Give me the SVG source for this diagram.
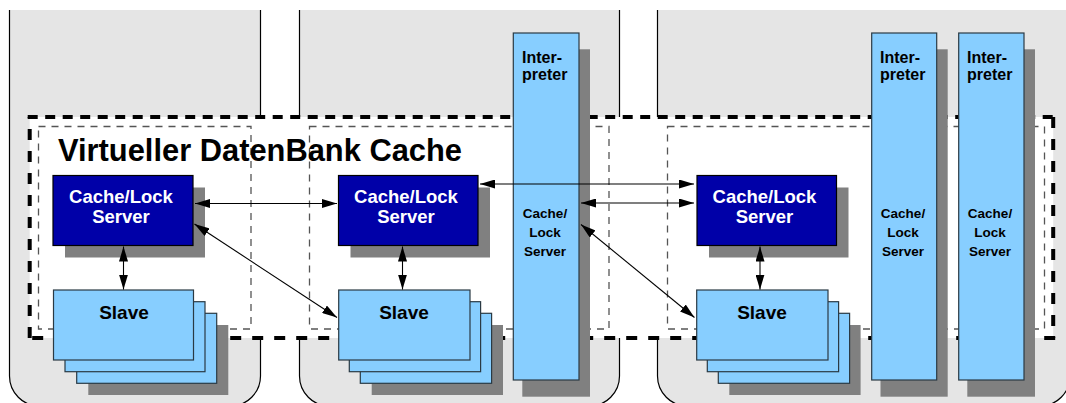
<svg xmlns="http://www.w3.org/2000/svg" width="1066" height="403" viewBox="0 0 1066 403">
  <defs>
    <style>
      .panel { fill: #e5e5e5; stroke: none; }
      .edge { fill: none; stroke: #000; stroke-width: 1.2; }
      .zone { fill: none; stroke: #555; stroke-width: 1.3; stroke-dasharray: 7 6; }
      .cache-top { fill: none; stroke: #000; stroke-width: 4; stroke-dasharray: 10 7.5; }
      .cache-side { fill: none; stroke: #000; stroke-width: 4; stroke-dasharray: 11 11; }
      .shadow { fill: #808080; stroke: none; }
      .srv { fill: #0000a8; stroke: #000; stroke-width: 1.2; }
      .lb { fill: #87ceff; stroke: #2a3a44; stroke-width: 1.2; }
      .t { font-family: "Liberation Sans", Arial, Helvetica, sans-serif; font-weight: bold; }
      .title { font-size: 30.5px; fill: #000; }
      .srvtxt { font-size: 18.5px; fill: #fff; text-anchor: middle; }
      .slavetxt { font-size: 19px; fill: #000; text-anchor: middle; }
      .intxt { font-size: 16px; fill: #000; }
      .coltxt { font-size: 13.5px; fill: #000; text-anchor: middle; }
      .link { fill: none; stroke: #000; stroke-width: 1.1; marker-start: url(#ah); marker-end: url(#ah); }
    </style>
    <marker id="ah" viewBox="0 0 15 9" refX="15" refY="4.5" markerWidth="15" markerHeight="9" markerUnits="userSpaceOnUse" orient="auto-start-reverse">
      <path d="M0,0 L15,4.5 L0,9 z" fill="#000"/>
    </marker>
  </defs>

  <!-- host machines -->
  <g id="host1">
    <path class="panel" d="M9.5,10 H260.5 V376 A30,30 0 0 1 230.5,406 H39.5 A30,30 0 0 1 9.5,376 Z"/>
    <path class="edge" d="M9.5,10 V376 A30,30 0 0 0 39.5,406 H230.5 A30,30 0 0 0 260.5,376 V10"/>
  </g>
  <g id="host2">
    <path class="panel" d="M299.5,10 H619.5 V376 A30,30 0 0 1 589.5,406 H329.5 A30,30 0 0 1 299.5,376 Z"/>
    <path class="edge" d="M299.5,10 V376 A30,30 0 0 0 329.5,406 H589.5 A30,30 0 0 0 619.5,376 V10"/>
  </g>
  <g id="host3">
    <path class="panel" d="M657.5,10 H1070 V376 A30,30 0 0 1 1040,406 H687.5 A30,30 0 0 1 657.5,376 Z"/>
    <path class="edge" d="M657.5,10 V376 A30,30 0 0 0 687.5,406 H1040 A30,30 0 0 0 1070,376 V10"/>
  </g>

  <!-- virtual database cache area -->
  <g id="cache-area">
    <rect x="29.7" y="117" width="1023.5" height="221" fill="#fff"/>
    <rect class="zone" x="38.5" y="126.5" width="212.5" height="202.5"/>
    <rect class="zone" x="309.5" y="126.5" width="299.5" height="202.5"/>
    <rect class="zone" x="667.5" y="126.5" width="377" height="202.5"/>
    <line class="cache-top" x1="27.7" y1="117" x2="1055.2" y2="117"/>
    <line class="cache-side" x1="1053.2" y1="117" x2="1053.2" y2="338"/>
    <line class="cache-side" x1="1055.2" y1="338" x2="27.7" y2="338"/>
    <line class="cache-side" x1="29.7" y1="338" x2="29.7" y2="117"/>
    <text class="t title" x="58" y="161" textLength="404" lengthAdjust="spacingAndGlyphs">Virtueller DatenBank Cache</text>
  </g>

  <!-- cache/lock servers -->
  <g id="server1">
    <rect class="shadow" x="65" y="187.5" width="140" height="70"/>
    <rect class="srv" x="53" y="175.5" width="140" height="70"/>
    <text class="t srvtxt" x="121" y="203">Cache/Lock</text>
    <text class="t srvtxt" x="121" y="222.5">Server</text>
  </g>
  <g id="server2">
    <rect class="shadow" x="350.5" y="187.5" width="139.5" height="70"/>
    <rect class="srv" x="338.5" y="175.5" width="139.5" height="70"/>
    <text class="t srvtxt" x="406" y="203">Cache/Lock</text>
    <text class="t srvtxt" x="406" y="222.5">Server</text>
  </g>
  <g id="server3">
    <rect class="shadow" x="709" y="187.5" width="139.5" height="70"/>
    <rect class="srv" x="697" y="175.5" width="139.5" height="70"/>
    <text class="t srvtxt" x="764.5" y="203">Cache/Lock</text>
    <text class="t srvtxt" x="764.5" y="222.5">Server</text>
  </g>

  <!-- slave stacks -->
  <g id="slaves1">
    <rect class="shadow" x="88.3" y="325" width="140" height="70"/>
    <rect class="lb" x="76.7" y="313.3" width="140" height="70"/>
    <rect class="lb" x="65" y="301.7" width="140" height="70"/>
    <rect class="lb" x="53.5" y="290" width="140" height="70"/>
    <text class="t slavetxt" x="124" y="319">Slave</text>
  </g>
  <g id="slaves2">
    <rect class="shadow" x="371.7" y="325" width="131.3" height="70"/>
    <rect class="lb" x="360.3" y="313.3" width="131.3" height="70"/>
    <rect class="lb" x="349.3" y="301.7" width="131.3" height="70"/>
    <rect class="lb" x="338.7" y="290" width="131.3" height="70"/>
    <text class="t slavetxt" x="404" y="319">Slave</text>
  </g>
  <g id="slaves3">
    <rect class="shadow" x="729.3" y="325" width="131.3" height="70"/>
    <rect class="lb" x="718.3" y="313.3" width="131.3" height="70"/>
    <rect class="lb" x="707.3" y="301.7" width="131.3" height="70"/>
    <rect class="lb" x="696.7" y="290" width="131.3" height="70"/>
    <text class="t slavetxt" x="762" y="319">Slave</text>
  </g>

  <!-- interpreters with built-in cache/lock server -->
  <g id="interp1">
    <rect class="shadow" x="522.3" y="49.3" width="67.7" height="347.4"/>
    <rect class="lb" x="513.3" y="33" width="65.7" height="347"/>
    <text class="t intxt" x="522" y="62.5">Inter-</text>
    <text class="t intxt" x="522" y="80">preter</text>
    <text class="t coltxt" x="545" y="217.5">Cache/</text>
    <text class="t coltxt" x="545" y="236.5">Lock</text>
    <text class="t coltxt" x="545" y="256">Server</text>
  </g>
  <g id="interp2">
    <rect class="shadow" x="880.5" y="49.3" width="67.2" height="347.4"/>
    <rect class="lb" x="871.7" y="33" width="65" height="347"/>
    <text class="t intxt" x="880" y="62.5">Inter-</text>
    <text class="t intxt" x="880" y="80">preter</text>
    <text class="t coltxt" x="903" y="217.5">Cache/</text>
    <text class="t coltxt" x="903" y="236.5">Lock</text>
    <text class="t coltxt" x="903" y="256">Server</text>
  </g>
  <g id="interp3">
    <rect class="shadow" x="967.3" y="49.3" width="67.7" height="347.4"/>
    <rect class="lb" x="958.7" y="33" width="65.3" height="347"/>
    <text class="t intxt" x="967" y="62.5">Inter-</text>
    <text class="t intxt" x="967" y="80">preter</text>
    <text class="t coltxt" x="990" y="217.5">Cache/</text>
    <text class="t coltxt" x="990" y="236.5">Lock</text>
    <text class="t coltxt" x="990" y="256">Server</text>
  </g>

  <!-- connections -->
  <g id="connectors">
    <line class="link" x1="195" y1="203.5" x2="337" y2="203.5"/>
    <line class="link" x1="194.5" y1="224" x2="337" y2="317.5"/>
    <line class="link" x1="123.5" y1="246.5" x2="123.5" y2="289.5"/>
    <line class="link" x1="480" y1="184" x2="694" y2="184"/>
    <line class="link" x1="581" y1="203" x2="694" y2="203"/>
    <line class="link" x1="581" y1="224.5" x2="694.5" y2="317.5"/>
    <line class="link" x1="402.5" y1="246.5" x2="402.5" y2="289.5"/>
    <line class="link" x1="760" y1="246.5" x2="760" y2="289.5"/>
  </g>
</svg>
